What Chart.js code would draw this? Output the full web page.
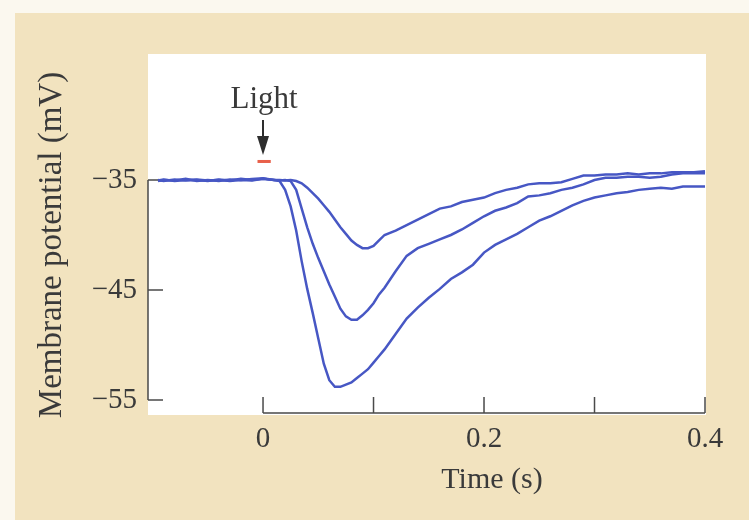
<!DOCTYPE html>
<html>
<head>
<meta charset="utf-8">
<script src="https://cdn.jsdelivr.net/npm/chart.js@4.4.1/dist/chart.umd.min.js"></script>
<style>
  html, body { margin: 0; padding: 0; background: #fbf8ef; }
  #wrap { width: 749px; height: 520px; }
</style>
</head>
<body>
<div id="wrap"><canvas id="chart" width="749" height="520"></canvas></div>
<script>
// time (s) shared by the three recordings
const times = [
  -0.095, -0.09, -0.08, -0.07, -0.06, -0.05, -0.04, -0.03, -0.02, -0.01, 0.00,
  0.01, 0.015, 0.02, 0.025, 0.03, 0.035, 0.04, 0.045, 0.05, 0.055, 0.06, 0.065,
  0.07, 0.075, 0.08, 0.085, 0.09, 0.095, 0.10, 0.105, 0.11,
  0.12, 0.13, 0.14, 0.15, 0.16, 0.17, 0.18, 0.19, 0.20, 0.21, 0.22, 0.23, 0.24,
  0.25, 0.26, 0.27, 0.28, 0.29, 0.30, 0.31, 0.32, 0.33, 0.34, 0.35, 0.36, 0.37,
  0.38, 0.39, 0.40
];

// membrane potential (mV), dim / medium / bright flash
const traceSmall = [
  -35.1, -35.0, -35.05, -34.9, -35.1, -35.0, -35.1, -34.95, -35.0, -34.9, -34.85,
  -35.0, -35.0, -35.05, -35.0, -35.1, -35.3, -35.7, -36.2, -36.7, -37.3, -37.9, -38.6,
  -39.3, -39.9, -40.5, -40.9, -41.2, -41.2, -41.0, -40.5, -40.0,
  -39.6, -39.1, -38.6, -38.1, -37.6, -37.4, -37.0, -36.8, -36.6, -36.2, -35.9, -35.7, -35.4,
  -35.3, -35.3, -35.2, -34.9, -34.6, -34.6, -34.5, -34.5, -34.4, -34.5, -34.4, -34.4, -34.3,
  -34.3, -34.3, -34.2
];
const traceMedium = [
  -35.0, -35.1, -34.95, -35.05, -35.0, -35.1, -34.95, -35.05, -34.9, -35.0, -34.9,
  -35.0, -35.05, -35.0, -35.1, -35.9, -37.6, -39.3, -40.8, -42.1, -43.3, -44.5, -45.6,
  -46.7, -47.4, -47.7, -47.7, -47.3, -46.8, -46.2, -45.4, -44.8,
  -43.3, -41.9, -41.2, -40.8, -40.4, -40.0, -39.5, -38.9, -38.3, -37.8, -37.5, -37.1, -36.5,
  -36.4, -36.2, -35.9, -35.7, -35.4, -35.0, -34.8, -34.8, -34.7, -34.7, -34.8, -34.7, -34.5,
  -34.4, -34.4, -34.4
];
const traceLarge = [
  -35.05, -34.95, -35.1, -35.0, -34.95, -35.05, -35.0, -35.1, -35.0, -35.05, -34.9,
  -35.0, -35.1, -35.9, -37.4, -39.6, -42.4, -44.9, -47.1, -49.4, -51.7, -53.2, -53.8,
  -53.8, -53.6, -53.4, -53.0, -52.6, -52.2, -51.6, -51.0, -50.4,
  -49.0, -47.6, -46.6, -45.7, -44.9, -44.0, -43.4, -42.7, -41.6, -40.9, -40.4, -39.9, -39.3,
  -38.7, -38.3, -37.8, -37.3, -36.9, -36.6, -36.4, -36.2, -36.1, -35.9, -35.8, -35.7, -35.8,
  -35.6, -35.6, -35.6
];

const xTicks = [0, 0.1, 0.2, 0.3, 0.4];
const xLabels = [0, 0.2, 0.4];
const yTicks = [-55, -45, -35];
const lightOn = [-0.005, 0.007];
const lightAt = 0;

const serif = '"Liberation Serif", "DejaVu Serif", serif';
const ink = '#3a3a3a';
const traceColor = '#4757c4';

function pts(trace) {
  return times.map((t, i) => ({ x: t, y: trace[i] }));
}

// background panels, axis frame and the light marker
const frame = {
  id: 'frame',
  beforeDraw(chart) {
    const { ctx, chartArea: a } = chart;
    ctx.save();
    ctx.fillStyle = '#fbf8ef';
    ctx.fillRect(0, 0, chart.width, chart.height);
    ctx.fillStyle = '#f2e3bf';
    ctx.fillRect(15, 13, chart.width - 15, chart.height - 13);
    ctx.fillStyle = '#ffffff';
    ctx.fillRect(a.left, a.top, a.right - a.left, a.bottom - a.top + 2);
    ctx.restore();
  },
  beforeDatasetsDraw(chart) {
    const { ctx, scales: { x, y }, chartArea: a } = chart;
    ctx.save();
    ctx.strokeStyle = '#4a4a4a';
    ctx.lineWidth = 1.5;
    ctx.beginPath();
    ctx.moveTo(a.left, y.getPixelForValue(yTicks[yTicks.length - 1]));
    ctx.lineTo(a.left, y.getPixelForValue(yTicks[0]));
    yTicks.forEach(v => {
      const py = y.getPixelForValue(v);
      ctx.moveTo(a.left, py);
      ctx.lineTo(a.left + 15, py);
    });
    ctx.moveTo(x.getPixelForValue(xTicks[0]), a.bottom);
    ctx.lineTo(x.getPixelForValue(xTicks[xTicks.length - 1]), a.bottom);
    xTicks.forEach(v => {
      const px = x.getPixelForValue(v);
      ctx.moveTo(px, a.bottom);
      ctx.lineTo(px, a.bottom - 16);
    });
    ctx.stroke();
    ctx.restore();
  },
  afterDraw(chart) {
    const { ctx, scales: { x, y } } = chart;
    ctx.save();
    ctx.fillStyle = ink;
    ctx.textAlign = 'center';
    ctx.textBaseline = 'middle';

    // axis titles
    ctx.font = '30px ' + serif;
    ctx.fillText('Time (s)', 492, 480);
    ctx.save();
    ctx.translate(52, 245);
    ctx.rotate(-Math.PI / 2);
    ctx.font = '33px ' + serif;
    ctx.fillText('Membrane potential (mV)', 0, 0);
    ctx.restore();

    // light stimulus
    const px = x.getPixelForValue(lightAt);
    const base = y.getPixelForValue(-35);
    ctx.font = '31px ' + serif;
    ctx.textBaseline = 'alphabetic';
    ctx.fillText('Light', px + 1, base - 72);
    ctx.strokeStyle = '#2e2e2e';
    ctx.lineWidth = 2;
    ctx.beginPath();
    ctx.moveTo(px, base - 60);
    ctx.lineTo(px, base - 40);
    ctx.stroke();
    ctx.fillStyle = '#2e2e2e';
    ctx.beginPath();
    ctx.moveTo(px - 6, base - 44);
    ctx.lineTo(px + 6, base - 44);
    ctx.lineTo(px, base - 25);
    ctx.closePath();
    ctx.fill();
    ctx.fillStyle = '#e8604a';
    const x0 = x.getPixelForValue(lightOn[0]);
    const x1 = x.getPixelForValue(lightOn[1]);
    ctx.fillRect(x0, base - 20, x1 - x0, 3);
    ctx.restore();
  }
};

const lineStyle = {
  borderColor: traceColor,
  borderWidth: 2.5,
  pointRadius: 0,
  tension: 0,
  fill: false
};

new Chart(document.getElementById('chart'), {
  type: 'line',
  data: {
    datasets: [
      { label: 'small', data: pts(traceSmall), ...lineStyle },
      { label: 'medium', data: pts(traceMedium), ...lineStyle },
      { label: 'large', data: pts(traceLarge), ...lineStyle }
    ]
  },
  options: {
    responsive: false,
    animation: false,
    devicePixelRatio: 1,
    layout: { padding: { top: 54, right: 43, left: 0, bottom: 0 } },
    plugins: { legend: { display: false }, tooltip: { enabled: false } },
    scales: {
      x: {
        type: 'linear',
        min: -0.1041,
        max: 0.4009,
        afterFit: s => { s.height = 107; },
        afterBuildTicks: s => { s.ticks = xLabels.map(v => ({ value: v })); },
        grid: { display: false },
        border: { display: false },
        ticks: {
          padding: 1,
          color: ink,
          font: { family: serif, size: 29 },
          callback: v => String(v)
        }
      },
      y: {
        type: 'linear',
        min: -56.18,
        max: -23.55,
        afterFit: s => { s.width = 148; },
        afterBuildTicks: s => { s.ticks = yTicks.map(v => ({ value: v })); },
        grid: { display: false },
        border: { display: false },
        ticks: {
          padding: 3,
          color: ink,
          font: { family: serif, size: 29 },
          callback: v => '\u2212' + Math.abs(v)
        }
      }
    }
  },
  plugins: [frame]
});
</script>
</body>
</html>
